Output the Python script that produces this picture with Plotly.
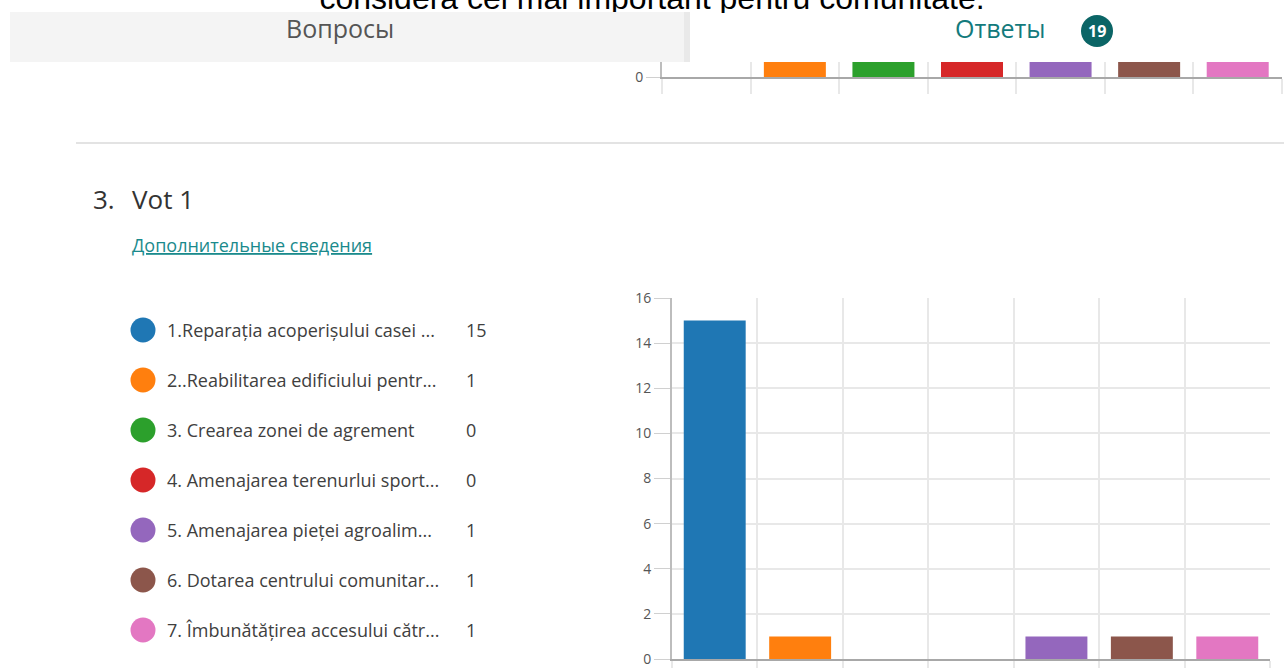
import plotly.graph_objects as go

W, H = 1284, 671
TOP_PAD = 40          # figure extends this many px above the visible page top
FH = H + TOP_PAD

# ---------------- data ----------------
options = [
    "1.Reparația acoperișului casei ...",
    "2..Reabilitarea edificiului pentr...",
    "3. Crearea zonei de agrement",
    "4. Amenajarea terenurlui sport...",
    "5. Amenajarea pieței agroalim...",
    "6. Dotarea centrului comunitar...",
    "7. Îmbunătățirea accesului cătr...",
]
counts = [15, 1, 0, 0, 1, 1, 1]
colors = ["#1f77b4", "#ff7f0e", "#2ca02c", "#d62728", "#9467bd", "#8c564b", "#e377c2"]
prev_counts = [0, 1, 1, 1, 1, 1, 1]   # previous question, only bar bases visible
y_ticks = [0, 2, 4, 6, 8, 10, 12, 14, 16]
question_title = "Vot 1"
question_no = "3."
responses = 19
top_title = "considera cel mai important pentru comunitate."

UI = "Open Sans"


def px(x):
    return x / W


def py(y):
    return 1 - (y + TOP_PAD) / FH


fig = go.Figure()

# previous question chart (top, clipped)
fig.add_trace(go.Bar(x=options, y=prev_counts, marker=dict(color=colors, line=dict(width=0)),
                     width=0.70, xaxis="x2", yaxis="y2", hoverinfo="skip", showlegend=False))

# main chart
fig.add_trace(go.Bar(x=options, y=counts, marker=dict(color=colors, line=dict(width=0)),
                     width=0.725, xaxis="x", yaxis="y", showlegend=False))

# legend dots
fig.add_trace(go.Scatter(x=[0] * len(options), y=options, mode="markers",
                         marker=dict(color=colors, size=25, line=dict(width=0)),
                         xaxis="x3", yaxis="y3", hoverinfo="skip", showlegend=False))

# page title, cut off by the top of the page (clipped to a thin strip)
fig.add_trace(go.Scatter(x=[0], y=[0.5], mode="text", text=[top_title],
                         textposition="middle center", cliponaxis=True,
                         textfont=dict(family="Liberation Sans", size=32, color="#000000"),
                         xaxis="x4", yaxis="y4", hoverinfo="skip", showlegend=False))

grid_c = "#e8e8e8"
axis_c = "#bdbdbd"
tickfont = dict(family=UI, size=14, color="#555555")

layout = dict(
    width=W, height=FH,
    margin=dict(l=0, r=0, t=0, b=0, pad=0, autoexpand=False),
    paper_bgcolor="white", plot_bgcolor="white",
    showlegend=False,
    xaxis=dict(domain=[px(672), px(1270)], type="category", categoryorder="array",
               categoryarray=options, range=[-0.5, 6.5], tickson="boundaries",
               showgrid=True, gridcolor=grid_c, gridwidth=2,
               ticks="outside", ticklen=7, tickcolor=grid_c, tickwidth=2,
               showticklabels=False, showline=True, linecolor="#a8a8a8", linewidth=2,
               zeroline=False, fixedrange=True, automargin=False),
    yaxis=dict(domain=[py(659), py(298)], range=[0, 16], tickvals=y_ticks,
               showgrid=True, gridcolor=grid_c, gridwidth=2,
               ticks="outside", ticklen=16, tickcolor="#d0d0d0", ticklabelstandoff=0,
               tickfont=tickfont, showline=True, linecolor=axis_c, linewidth=2,
               zeroline=False, fixedrange=True, automargin=False),
    xaxis2=dict(domain=[px(662), px(1282)], type="category", categoryorder="array",
                categoryarray=options, range=[-0.5, 6.5], tickson="boundaries",
                showgrid=True, gridcolor=grid_c, gridwidth=2,
                ticks="outside", ticklen=15, tickcolor=grid_c, tickwidth=2,
                showticklabels=False, showline=True, linecolor="#a8a8a8", linewidth=2,
                zeroline=False, anchor="y2", fixedrange=True, automargin=False),
    yaxis2=dict(domain=[py(77), py(62)], range=[0, 0.5], tickvals=[0],
                showgrid=False, ticks="outside", ticklen=14, tickcolor="#d0d0d0",
                ticklabelstandoff=0, tickfont=tickfont, showline=True,
                linecolor=axis_c, linewidth=2, zeroline=False, anchor="x2", fixedrange=True,
                automargin=False),
    xaxis3=dict(domain=[0, 0.5], range=[-143, 642 - 143], visible=False, anchor="y3",
                fixedrange=True, automargin=False),
    yaxis3=dict(domain=[py(655), py(305)], type="category", categoryorder="array",
                categoryarray=options, range=[6.5, -0.5], visible=False, anchor="x3",
                fixedrange=True, automargin=False),
    xaxis4=dict(domain=[0, 1], range=[-652, W - 652], visible=False, anchor="y4",
                fixedrange=True, automargin=False),
    yaxis4=dict(domain=[py(13), py(0)], range=[13, 0], visible=False, anchor="x4",
                fixedrange=True, automargin=False),
)

shapes = [
    # questions tab (grey)
    dict(type="rect", xref="paper", yref="paper", x0=px(10), x1=px(684), y0=py(62), y1=py(12),
         fillcolor="#f4f4f4", line=dict(width=0), layer="above"),
    dict(type="rect", xref="paper", yref="paper", x0=px(684), x1=px(690), y0=py(62), y1=py(12),
         fillcolor="#e9e9e9", line=dict(width=0), layer="above"),
    # separator
    dict(type="line", xref="paper", yref="paper", x0=px(76), x1=1, y0=py(143), y1=py(143),
         line=dict(color="#e3e3e3", width=2)),
    # badge
    dict(type="circle", xref="paper", yref="paper", x0=px(1081), x1=px(1113), y0=py(47), y1=py(15),
         fillcolor="#0b6566", line=dict(width=0), layer="above"),
]

annotations = [
    dict(text="Вопросы", xref="paper", yref="paper", x=px(340), y=py(28), xanchor="center",
         yanchor="middle", showarrow=False, font=dict(family=UI, size=25, color="#555555")),
    dict(text="Ответы", xref="paper", yref="paper", x=px(1000), y=py(28), xanchor="center",
         yanchor="middle", showarrow=False, font=dict(family=UI, size=25, color="#137a7c")),
    dict(text=f"<b>{responses}</b>", xref="paper", yref="paper", x=px(1097), y=py(31), xanchor="center",
         yanchor="middle", showarrow=False, font=dict(family=UI, size=16, color="white")),
    dict(text=question_no, xref="paper", yref="paper", x=px(91), y=py(199), xanchor="left",
         yanchor="middle", showarrow=False, font=dict(family=UI, size=26, color="#333333")),
    dict(text=question_title, xref="paper", yref="paper", x=px(130), y=py(199), xanchor="left",
         yanchor="middle", showarrow=False, font=dict(family=UI, size=26, color="#333333")),
    dict(text="<u>Дополнительные сведения</u>", xref="paper", yref="paper", x=px(130), y=py(245),
         xanchor="left", yanchor="middle", showarrow=False,
         font=dict(family=UI, size=18, color="#1a8a8c")),
]

for name, c in zip(options, counts):
    annotations.append(dict(text=name, xref="x3", yref="y3", x=22, y=name, xanchor="left",
                            yanchor="middle", showarrow=False,
                            font=dict(family=UI, size=18, color="#404040")))
    annotations.append(dict(text=str(c), xref="x3", yref="y3", x=321, y=name, xanchor="left",
                            yanchor="middle", showarrow=False,
                            font=dict(family=UI, size=18, color="#404040")))

layout["shapes"] = shapes
layout["annotations"] = annotations
fig.update_layout(**layout)

post = (
    "document.documentElement.style.cssText='margin:0;padding:0;overflow:hidden;height:671px;';"
    "document.body.style.cssText='margin:0;padding:0;overflow:hidden;height:671px;';"
    "var d=document.getElementById('{plot_id}');"
    "d.parentElement.style.cssText='position:absolute;left:0;top:-" + str(TOP_PAD) + "px;margin:0;padding:0;';"
)
fig.write_html("out.html", config={"displayModeBar": False, "responsive": False},
               post_script=post)
